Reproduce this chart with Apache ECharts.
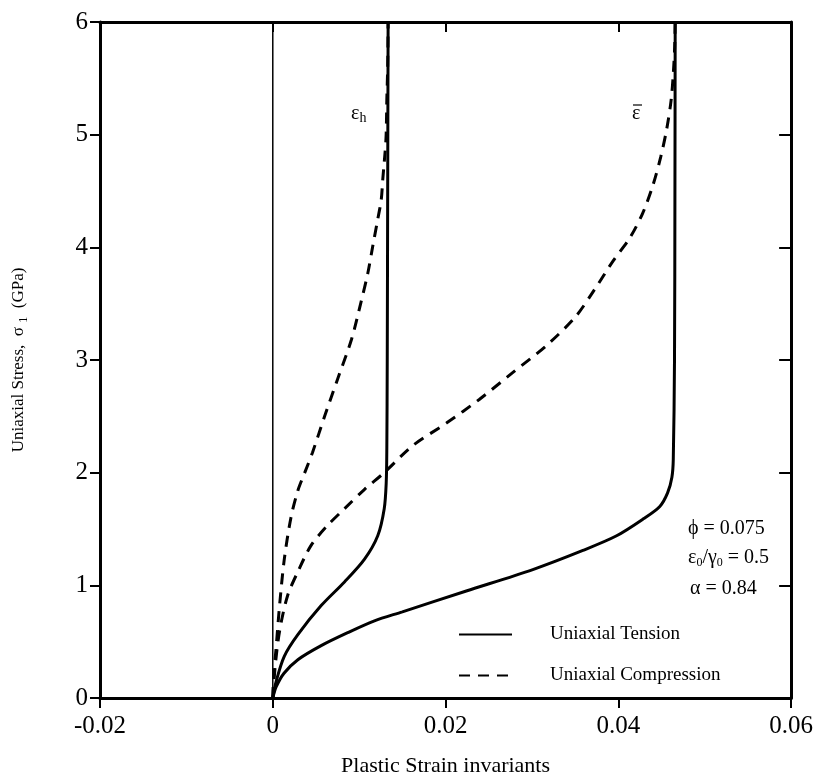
<!DOCTYPE html>
<html>
<head>
<meta charset="utf-8">
<script src="https://cdn.jsdelivr.net/npm/echarts@6/dist/echarts.min.js"></script>
<style>
  html, body { margin: 0; padding: 0; background: #fff; }
  #chart { width: 816px; height: 782px; }
</style>
</head>
<body>
<div id="chart"></div>
<script>
// Axis ranges and tick labels
const xTickLabels = ['-0.02', '0', '0.02', '0.04', '0.06'];
const yTickLabels = ['0', '1', '2', '3', '4', '5', '6'];

// Plastic strain (x) vs uniaxial stress in GPa (y)
// Uniaxial tension: hydrostatic strain invariant
const tensionHydro = [
  [0, 0], [0.0004, 0.15], [0.00133, 0.37], [0.00288, 0.56], [0.0056, 0.82],
  [0.0083, 1.03], [0.0106, 1.23], [0.01215, 1.44], [0.0129, 1.68],
  [0.01313, 1.91], [0.0132, 2.21], [0.01325, 3.0], [0.0133, 4.5], [0.01335, 6.0]
];
// Uniaxial tension: effective strain invariant
const tensionEff = [
  [0, 0], [0.0004, 0.1], [0.0013, 0.22], [0.0029, 0.34], [0.0056, 0.465],
  [0.00867, 0.58], [0.01177, 0.685], [0.015, 0.765], [0.0224, 0.95],
  [0.0301, 1.14], [0.0359, 1.31], [0.0398, 1.44], [0.0429, 1.59],
  [0.0448, 1.70], [0.0457, 1.82], [0.0462, 1.96], [0.04636, 2.12],
  [0.0465, 3.0], [0.04655, 4.5], [0.04658, 6.0]
];
// Uniaxial compression: hydrostatic strain invariant
const compHydro = [
  [0, 0], [0.0001, 0.2], [0.00037, 0.43], [0.00075, 0.79], [0.00133, 1.23],
  [0.0021, 1.6], [0.0029, 1.84], [0.0037, 2.0], [0.0046, 2.18],
  [0.006, 2.5], [0.0075, 2.83], [0.0091, 3.18], [0.0102, 3.51],
  [0.011, 3.77], [0.01157, 4.01], [0.01215, 4.25], [0.01255, 4.42],
  [0.01273, 4.6], [0.0131, 4.96], [0.0132, 5.31], [0.0133, 5.6], [0.01335, 6.0]
];
// Uniaxial compression: effective strain invariant
const compEff = [
  [0, 0], [0.0003, 0.3], [0.0008, 0.6], [0.00172, 0.91], [0.0029, 1.12],
  [0.0044, 1.35], [0.0062, 1.52], [0.0083, 1.68], [0.0106, 1.85],
  [0.0129, 2.0], [0.0162, 2.24], [0.0201, 2.44], [0.0239, 2.65],
  [0.0278, 2.89], [0.0317, 3.13], [0.0350, 3.38], [0.0372, 3.62],
  [0.0394, 3.88], [0.0413, 4.08], [0.0428, 4.3], [0.044, 4.55],
  [0.0449, 4.8], [0.0456, 5.05], [0.0461, 5.3], [0.04637, 5.55],
  [0.04652, 5.78], [0.04658, 6.0]
];
// Zero-strain reference line
const zeroLine = [[0, 0], [0, 6]];

const FONT = '"Liberation Serif", "Times New Roman", "DejaVu Serif", serif';
const INK = '#000';

const chart = echarts.init(document.getElementById('chart'), null, { renderer: 'canvas' });

const solid = { color: INK, width: 3, type: 'solid' };
const dashed = { color: INK, width: 3, type: [11, 8] };

function curve(name, data, lineStyle) {
  return {
    name: name,
    type: 'line',
    data: data,
    symbol: 'none',
    smooth: 0.3,
    lineStyle: lineStyle,
    itemStyle: { color: INK },
    silent: true,
    z: 3
  };
}

const xBase = {
  type: 'value', min: -0.02, max: 0.06, interval: 0.02,
  splitLine: { show: false },
  axisLine: { show: true, onZero: false, lineStyle: { color: INK, width: 3 } }
};
const yBase = {
  type: 'value', min: 0, max: 6, interval: 1,
  splitLine: { show: false },
  axisLine: { show: true, onZero: false, lineStyle: { color: INK, width: 3 } }
};

chart.setOption({
  backgroundColor: '#fff',
  animation: false,
  grid: { left: 100, right: 24, top: 22, bottom: 83, containLabel: false },
  xAxis: [
    Object.assign({}, xBase, {
      position: 'bottom',
      name: 'Plastic Strain invariants',
      nameLocation: 'middle',
      nameGap: 57,
      nameTextStyle: { fontFamily: FONT, fontSize: 22, color: INK },
      axisTick: { show: true, inside: false, length: 10, lineStyle: { color: INK, width: 2 } },
      axisLabel: {
        fontFamily: FONT, fontSize: 25, color: INK, margin: 16,
        formatter: (v, i) => xTickLabels[i]
      }
    }),
    Object.assign({}, xBase, {
      position: 'top',
      axisTick: { show: true, inside: true, length: 10, lineStyle: { color: INK, width: 2 } },
      axisLabel: { show: false }
    })
  ],
  yAxis: [
    Object.assign({}, yBase, {
      position: 'left',
      name: '{t|Uniaxial Stress,  σ }{s|1}{t|  (GPa)}',
      nameLocation: 'middle',
      nameGap: 70,
      nameRotate: 90,
      nameTextStyle: {
        color: INK,
        rich: {
          t: { fontFamily: FONT, fontSize: 17, color: INK, lineHeight: 22 },
          s: { fontFamily: FONT, fontSize: 12, color: INK, lineHeight: 14, verticalAlign: 'bottom' }
        }
      },
      axisTick: { show: true, inside: false, length: 10, lineStyle: { color: INK, width: 2 } },
      axisLabel: {
        fontFamily: FONT, fontSize: 25, color: INK, margin: 12,
        formatter: (v, i) => yTickLabels[i]
      }
    }),
    Object.assign({}, yBase, {
      position: 'right',
      axisTick: { show: true, inside: true, length: 12, lineStyle: { color: INK, width: 2 } },
      axisLabel: { show: false }
    })
  ],
  legend: {
    data: ['Uniaxial Tension', 'Uniaxial Compression'],
    orient: 'vertical',
    left: 453,
    top: 620,
    itemWidth: 53,
    itemHeight: 18,
    itemGap: 22,
    selectedMode: false,
    itemStyle: { opacity: 0 },
    textStyle: { fontFamily: FONT, fontSize: 19, color: INK, padding: [0, 0, 0, 33] }
  },
  series: [
    {
      name: 'zero', type: 'line', data: zeroLine, symbol: 'none', silent: true,
      lineStyle: { color: INK, width: 1.5 }, z: 2
    },
    curve('Uniaxial Tension', tensionHydro, solid),
    curve('Uniaxial Tension', tensionEff, solid),
    curve('Uniaxial Compression', compHydro, dashed),
    curve('Uniaxial Compression', compEff, dashed)
  ],
  graphic: [
    {
      type: 'text', left: 351, top: 104, silent: true,
      style: {
        text: '{e|ε}{s|h}',
        rich: {
          e: { fontFamily: FONT, fontSize: 20, color: INK, lineHeight: 22 },
          s: { fontFamily: FONT, fontSize: 14, color: INK, lineHeight: 16, verticalAlign: 'bottom' }
        }
      }
    },
    {
      type: 'text', left: 632, top: 104, silent: true,
      style: { text: 'ε', fontFamily: FONT, fontSize: 20, fill: INK }
    },
    {
      type: 'line', silent: true,
      shape: { x1: 633, y1: 105, x2: 642, y2: 105 },
      style: { stroke: INK, lineWidth: 1.2 }
    },
    {
      type: 'text', left: 688, top: 519, silent: true,
      style: { text: 'ϕ = 0.075', fontFamily: FONT, fontSize: 20, fill: INK }
    },
    {
      type: 'text', left: 688, top: 548, silent: true,
      style: {
        text: '{t|ε}{s|0}{t|/γ}{s|0}{t| = 0.5}',
        rich: {
          t: { fontFamily: FONT, fontSize: 20, color: INK, lineHeight: 22 },
          s: { fontFamily: FONT, fontSize: 12, color: INK, lineHeight: 16, verticalAlign: 'bottom' }
        }
      }
    },
    {
      type: 'text', left: 690, top: 579, silent: true,
      style: { text: 'α = 0.84', fontFamily: FONT, fontSize: 20, fill: INK }
    }
  ]
});
</script>
</body>
</html>
